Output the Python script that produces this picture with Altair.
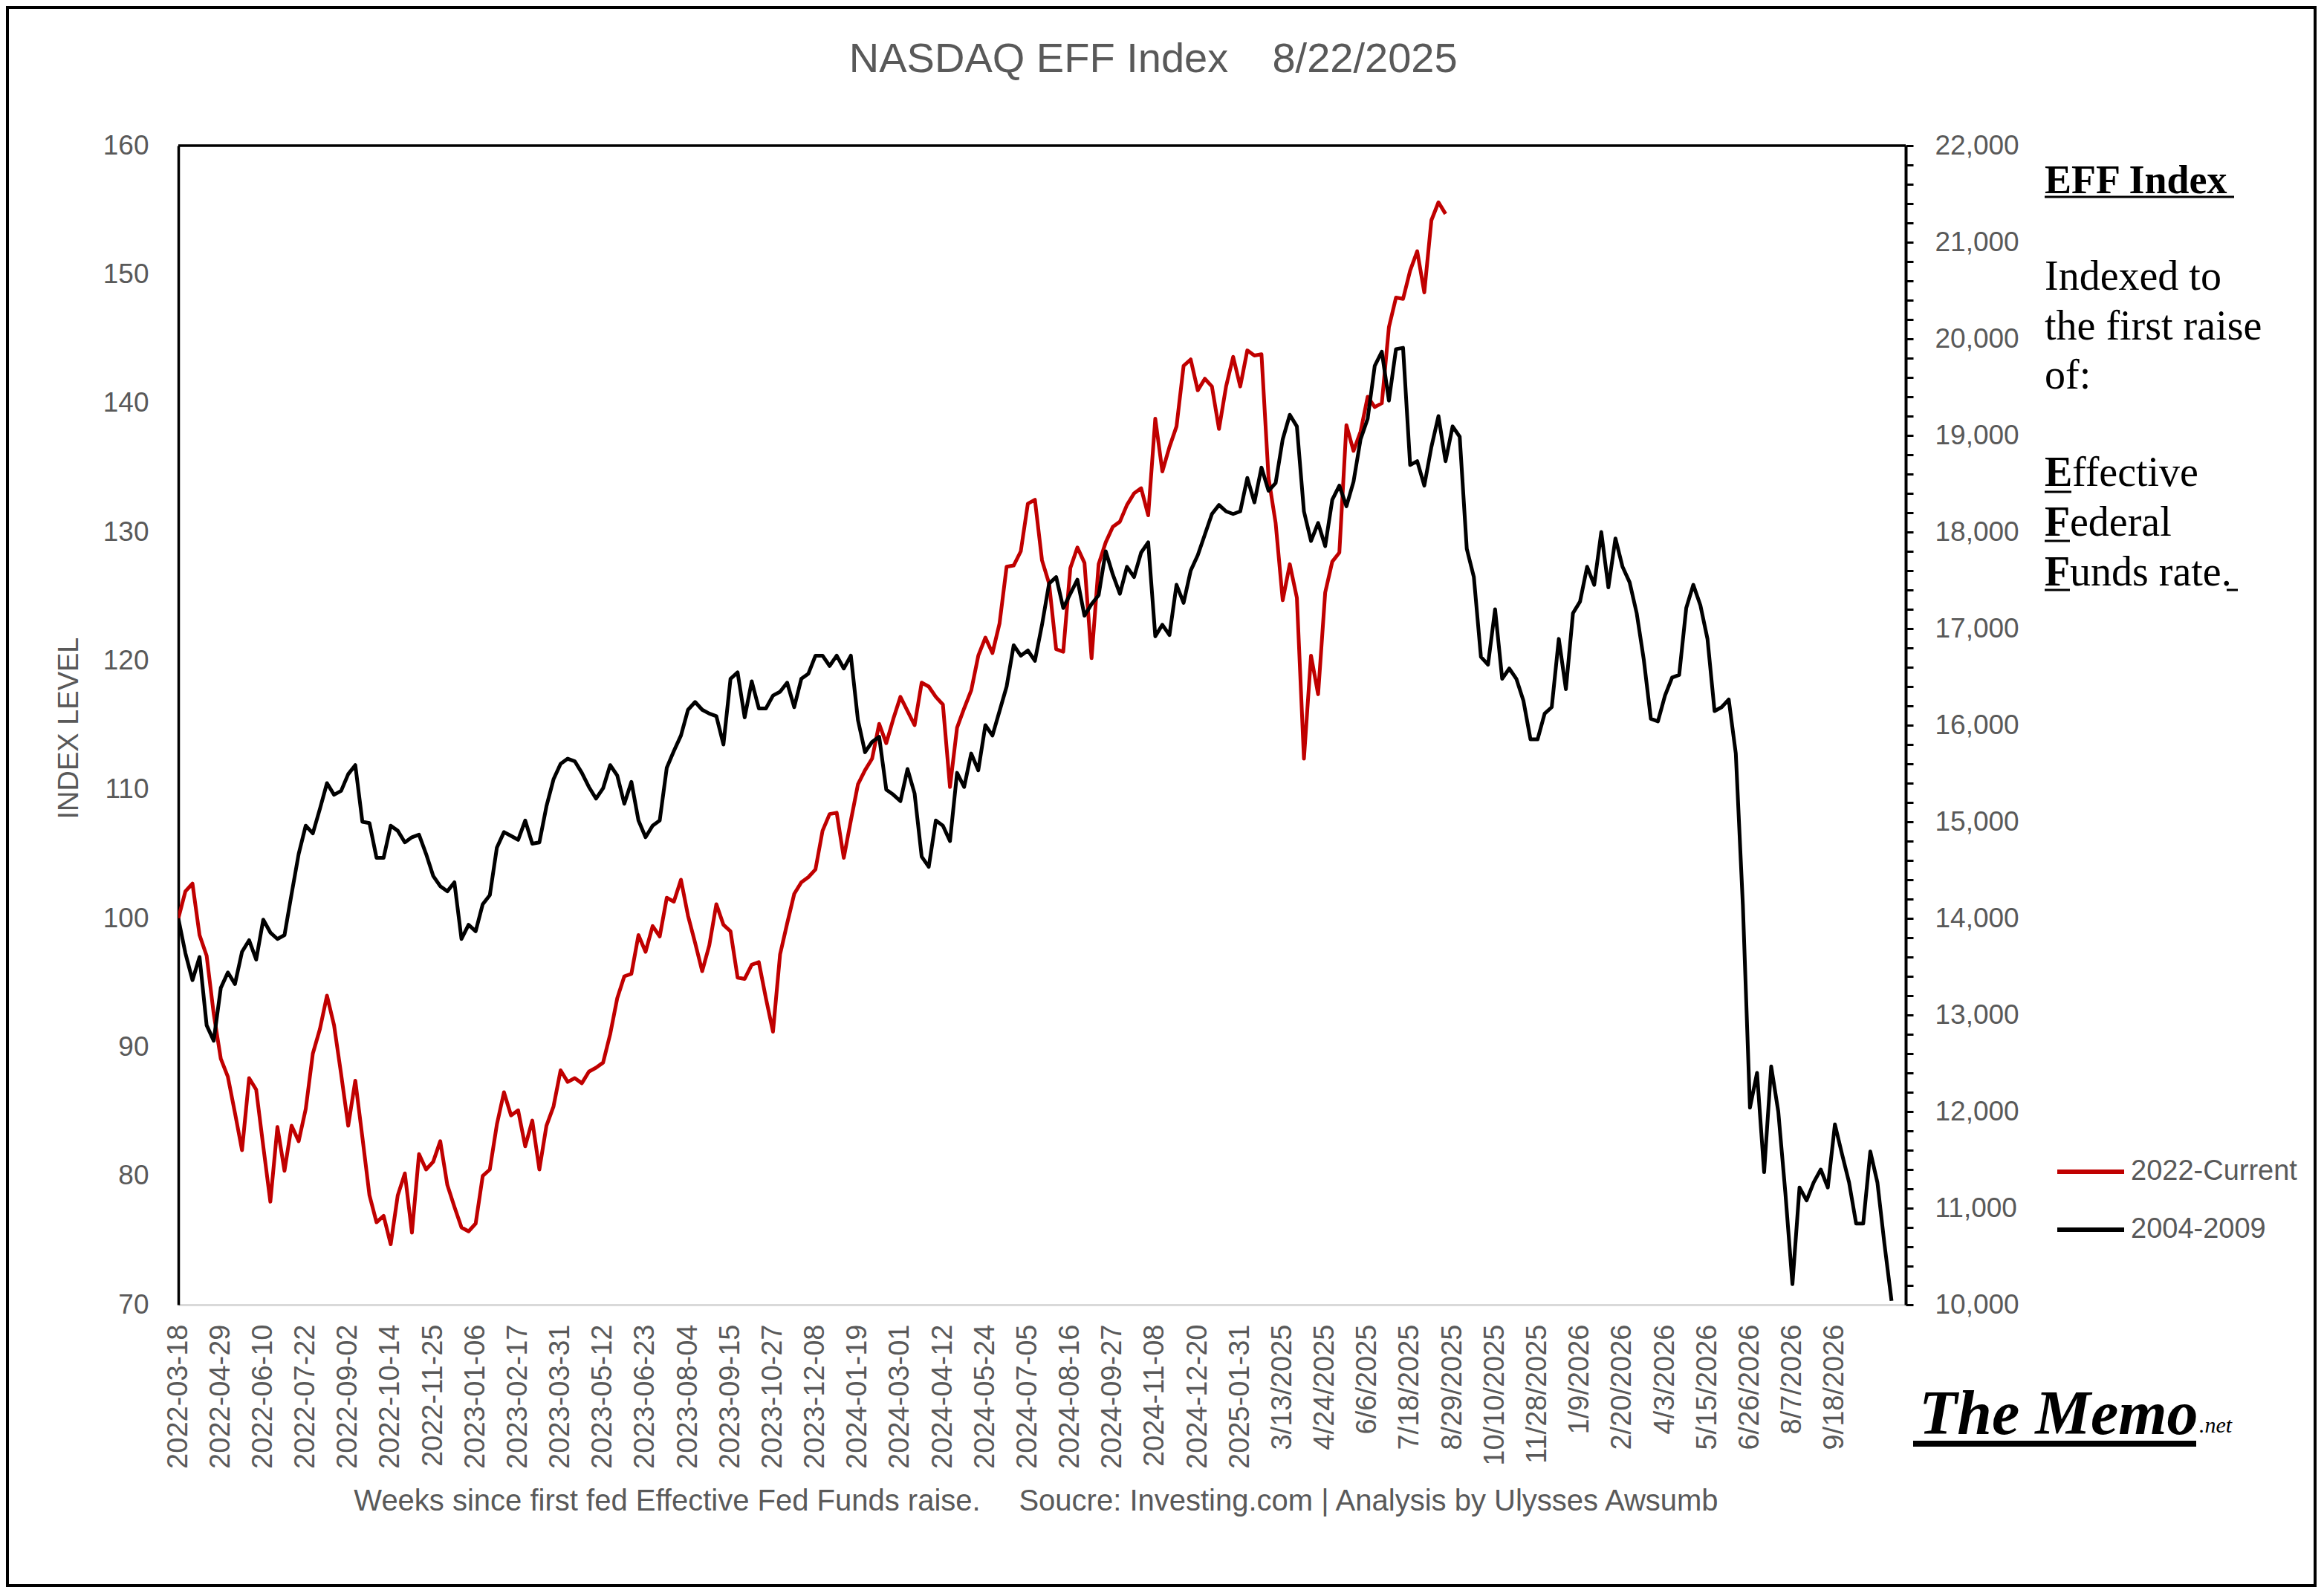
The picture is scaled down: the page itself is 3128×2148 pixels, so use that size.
import json
import altair as alt
import pandas as pd

# ---------------- data ----------------
x_labels = ["2022-03-18", "2022-04-29", "2022-06-10", "2022-07-22", "2022-09-02", "2022-10-14",
            "2022-11-25", "2023-01-06", "2023-02-17", "2023-03-31", "2023-05-12", "2023-06-23",
            "2023-08-04", "2023-09-15", "2023-10-27", "2023-12-08", "2024-01-19", "2024-03-01",
            "2024-04-12", "2024-05-24", "2024-07-05", "2024-08-16", "2024-09-27", "2024-11-08",
            "2024-12-20", "2025-01-31", "3/13/2025", "4/24/2025", "6/6/2025", "7/18/2025",
            "8/29/2025", "10/10/2025", "11/28/2025", "1/9/2026", "2/20/2026", "4/3/2026",
            "5/15/2026", "6/26/2026", "8/7/2026", "9/18/2026"]
label_every = 6  # weeks between category labels

series_names = ["2022-Current", "2004-2009"]

# 2022-Current (weekly, indexed to 100 at first raise)
current_2022 = [
    100.0, 102.1, 102.7, 98.7, 97.1, 92.6, 89.1, 87.7, 84.9, 82.0,
    87.6, 86.7, 82.3, 78.0, 83.8, 80.4, 83.9, 82.7, 85.2, 89.5,
    91.4, 94.0, 91.7, 87.9, 83.9, 87.4, 83.0, 78.5, 76.4, 76.9,
    74.7, 78.5, 80.2, 75.6, 81.7, 80.5, 81.1, 82.7, 79.3, 77.6,
    76.0, 75.7, 76.3, 80.0, 80.5, 84.0, 86.5, 84.7, 85.1, 82.3,
    84.3, 80.5, 83.9, 85.4, 88.2, 87.3, 87.6, 87.2, 88.1, 88.4,
    88.8, 91.0, 93.8, 95.5, 95.7, 98.7, 97.4, 99.4, 98.6, 101.6,
    101.3, 103.0, 100.2, 98.1, 95.9, 97.9, 101.1, 99.5, 99.0, 95.4,
    95.3, 96.4, 96.6, 93.8, 91.2, 97.2, 99.6, 101.9, 102.8, 103.2,
    103.8, 106.8, 108.1, 108.2, 104.7, 107.6, 110.4, 111.5, 112.4, 115.1,
    113.6, 115.5, 117.2, 116.1, 115.0, 118.3, 118.0, 117.2, 116.6, 110.2,
    114.8, 116.3, 117.7, 120.4, 121.8, 120.6, 122.9, 127.3, 127.4, 128.5,
    132.2, 132.5, 127.8, 126.0, 120.9, 120.7, 127.2, 128.8, 127.6, 120.2,
    127.5, 129.2, 130.4, 130.8, 132.1, 133.0, 133.4, 131.3, 138.8, 134.7,
    136.6, 138.2, 142.9, 143.4, 141.0, 141.9, 141.3, 138.0, 141.3, 143.6,
    141.3, 144.1, 143.7, 143.8, 134.2, 130.7, 124.7, 127.5, 124.9, 112.4,
    120.4, 117.4, 125.3, 127.7, 128.4, 138.3, 136.3, 137.8, 140.5, 139.7,
    140.0, 145.9, 148.2, 148.1, 150.3, 151.8, 148.6, 154.2, 155.6, 154.7,
]

# 2004-2009 (weekly, indexed to 100 at first raise)
cycle_2004 = [
    100.0, 97.3, 95.2, 97.0, 91.7, 90.5, 94.6, 95.8, 94.9, 97.4,
    98.3, 96.8, 99.9, 98.9, 98.4, 98.7, 101.9, 105.0, 107.2, 106.6,
    108.5, 110.5, 109.6, 109.9, 111.2, 111.9, 107.5, 107.4, 104.7, 104.7,
    107.2, 106.8, 105.9, 106.3, 106.5, 105.0, 103.3, 102.5, 102.1, 102.8,
    98.4, 99.5, 99.0, 101.1, 101.8, 105.5, 106.7, 106.4, 106.1, 107.6,
    105.8, 105.9, 108.7, 110.8, 112.0, 112.4, 112.2, 111.3, 110.2, 109.3,
    110.1, 111.9, 111.1, 108.9, 110.6, 107.6, 106.3, 107.2, 107.6, 111.7,
    113.0, 114.2, 116.2, 116.8, 116.2, 115.9, 115.7, 113.5, 118.6, 119.1,
    115.6, 118.4, 116.3, 116.3, 117.3, 117.6, 118.3, 116.4, 118.6, 119.0,
    120.4, 120.4, 119.6, 120.4, 119.4, 120.4, 115.4, 112.9, 113.7, 114.1,
    110.0, 109.6, 109.1, 111.6, 109.7, 104.8, 104.0, 107.6, 107.2, 106.0,
    111.3, 110.2, 112.8, 111.5, 115.0, 114.2, 116.1, 118.0, 121.2, 120.4,
    120.8, 120.0, 122.8, 126.0, 126.5, 124.1, 125.2, 126.3, 123.5, 124.4,
    125.1, 128.5, 126.7, 125.2, 127.3, 126.5, 128.4, 129.2, 121.9, 122.8,
    122.0, 125.9, 124.5, 127.0, 128.2, 129.8, 131.4, 132.1, 131.6, 131.4,
    131.6, 134.2, 132.3, 135.0, 133.2, 133.8, 137.2, 139.1, 138.2, 131.6,
    129.3, 130.7, 128.9, 132.5, 133.6, 132.0, 133.9, 137.2, 138.8, 142.9,
    144.0, 140.2, 144.2, 144.3, 135.2, 135.5, 133.6, 136.6, 139.0, 135.5,
    138.2, 137.4, 128.7, 126.5, 120.3, 119.7, 124.0, 118.6, 119.4, 118.6,
    116.9, 113.9, 113.9, 115.9, 116.4, 121.7, 117.8, 123.7, 124.6, 127.3,
    125.9, 130.0, 125.7, 129.5, 127.3, 126.1, 123.7, 120.1, 115.5, 115.3,
    117.3, 118.7, 118.9, 124.1, 125.9, 124.3, 121.7, 116.1, 116.4, 117.0,
    112.8, 101.0, 85.3, 88.0, 80.3, 88.5, 85.0, 78.7, 71.6, 79.1,
    78.1, 79.5, 80.5, 79.1, 84.0, 81.7, 79.5, 76.3, 76.3, 81.9,
    79.5, 74.7, 70.3,
]

left_ticks = [70, 80, 90, 100, 110, 120, 130, 140, 150, 160]
right_domain = [10000, 22000]
right_major_step = 1000
right_minor_step = 200

# ---------------- layout constants ----------------
W, H = 2325, 1560
PAD = {"left": 232, "top": 188, "right": 553, "bottom": 380}
GRAY = "#595959"
SANS = "Liberation Sans"
SERIF = "Liberation Serif"
RED = "#C00000"

df_red = pd.DataFrame({"week": list(range(len(current_2022))), "value": current_2022,
                       "series": series_names[0]})
df_blk = pd.DataFrame({"week": list(range(len(cycle_2004))), "value": cycle_2004,
                       "series": series_names[1]})

x_tick_vals = [i * label_every for i in range(len(x_labels))]
x_label_expr = json.dumps(x_labels) + "[round(datum.value / %d)]" % label_every

x_enc = alt.X("week:Q",
              scale=alt.Scale(domain=[0, 244], nice=False, zero=False),
              axis=alt.Axis(values=x_tick_vals, labelExpr=x_label_expr, labelAngle=270,
                            labelAlign="right", labelBaseline="middle", labelPadding=26,
                            labelFont=SANS, labelFontSize=38, labelColor=GRAY,
                            labelLimit=500, labelFlush=False, labelOverlap=False,
                            ticks=False, tickSize=0,
                            grid=False, domainColor="#D9D9D9", domainWidth=3),
              title=None)
y_enc = alt.Y("value:Q",
              scale=alt.Scale(domain=[70, 160], nice=False, zero=False),
              axis=alt.Axis(values=left_ticks, labelPadding=40, labelFont=SANS,
                            labelFontSize=37, labelColor=GRAY, ticks=False, tickSize=0,
                            grid=False, domainColor="black", domainWidth=3.5,
                            labelOverlap=False),
              title=None)

red_line = alt.Chart(df_red).mark_line(color=RED, strokeWidth=5, clip=True,
                                       strokeJoin="round").encode(x=x_enc, y=y_enc)
blk_line = alt.Chart(df_blk).mark_line(color="black", strokeWidth=5, clip=True,
                                       strokeJoin="round").encode(x=x_enc, y=y_enc)
lines = alt.layer(red_line, blk_line)

right_vals = list(range(right_domain[0], right_domain[1] + 1, right_minor_step))
df_right = pd.DataFrame({"level": right_domain})
right_axis = alt.Chart(df_right).mark_point(opacity=0).encode(
    y=alt.Y("level:Q",
            scale=alt.Scale(domain=right_domain, nice=False, zero=False),
            axis=alt.Axis(orient="right", values=right_vals,
                          labelExpr="datum.value %% %d === 0 ? format(datum.value, ',') : ''" % right_major_step,
                          labelPadding=29, labelFont=SANS, labelFontSize=37, labelColor=GRAY,
                          ticks=True, tickSize=10, tickWidth=3, tickColor="black",
                          domainColor="black", domainWidth=4, grid=False,
                          labelOverlap=False),
            title=None)
)

one = pd.DataFrame({"k": [0]})


def txt(s, x, y, size, font=SANS, color=GRAY, weight="normal", style="normal",
        align="left", baseline="alphabetic", angle=0):
    kw = dict(font=font, fontSize=size, color=color, fontWeight=weight, fontStyle=style,
              align=align, baseline=baseline)
    if angle:
        kw["angle"] = angle
    return alt.Chart(one).mark_text(**kw).encode(
        x=alt.value(x), y=alt.value(y), text=alt.value(s))


def rule(x1, x2, y, width, color="black"):
    return alt.Chart(one).mark_rule(color=color, strokeWidth=width).encode(
        x=alt.value(x1), x2=alt.value(x2), y=alt.value(y))


layers = [lines, right_axis]

# top edge of plot area
layers.append(rule(0, W, 0, 3.5))

# outer border
layers.append(alt.Chart(one).mark_rect(fillOpacity=0, stroke="black", strokeWidth=4).encode(
    x=alt.value(-PAD["left"] + 2), x2=alt.value(W + PAD["right"] - 2),
    y=alt.value(-PAD["top"] + 2), y2=alt.value(H + PAD["bottom"] - 2)))

# title
layers.append(txt("NASDAQ EFF Index", 1158, -99, 56, align="center"))
layers.append(txt("8/22/2025", 1597, -99, 56, align="center"))

# axis titles
layers.append(txt("INDEX LEVEL", -146, 784, 38, align="center", baseline="middle", angle=270))
layers.append(txt("Weeks since first fed Effective Fed Funds raise.", 658, 1837, 40, align="center"))
layers.append(txt("Soucre: Investing.com | Analysis by Ulysses Awsumb", 1602, 1837, 40, align="center"))

# right-hand note
TX = 2512
layers.append(txt("EFF Index", TX, 64, 54, font=SERIF, color="black", weight="bold"))
layers.append(rule(TX, 2767, 69, 3))
layers.append(txt("Indexed to", TX, 194, 56, font=SERIF, color="black"))
layers.append(txt("the first raise", TX, 261, 56, font=SERIF, color="black"))
layers.append(txt("of:", TX, 327, 56, font=SERIF, color="black"))
layers.append(txt("E", TX, 458, 56, font=SERIF, color="black", weight="bold"))
layers.append(txt("ffective", TX + 37, 458, 56, font=SERIF, color="black"))
layers.append(rule(TX, TX + 36, 466, 3))
layers.append(txt("F", TX, 525, 56, font=SERIF, color="black", weight="bold"))
layers.append(txt("ederal", TX + 34, 525, 56, font=SERIF, color="black"))
layers.append(rule(TX, TX + 34, 532, 3))
layers.append(txt("F", TX, 592, 56, font=SERIF, color="black", weight="bold"))
layers.append(txt("unds rate.", TX + 34, 592, 56, font=SERIF, color="black"))
layers.append(rule(TX, TX + 34, 598, 3))
layers.append(rule(2757, 2772, 598, 3))

# legend
layers.append(rule(2529, 2619, 1381, 6, color=RED))
layers.append(txt(series_names[0], 2628, 1381, 38, baseline="middle"))
layers.append(rule(2529, 2619, 1459, 6, color="black"))
layers.append(txt(series_names[1], 2628, 1459, 38, baseline="middle"))

# logo
layers.append(txt("The Memo", 2343, 1734, 84, font=SERIF, color="black", weight="bold", style="italic"))
layers.append(txt(".net", 2720, 1732, 30, font=SERIF, color="black", style="italic"))
layers.append(rule(2335, 2716, 1747, 8))

chart = alt.layer(*layers).resolve_scale(y="independent").properties(
    width=W, height=H, padding=PAD, autosize=alt.AutoSizeParams(type="none"),
    background="white",
).configure_view(stroke="transparent")

chart.save("out.html", embed_options={"renderer": "svg", "actions": False})
